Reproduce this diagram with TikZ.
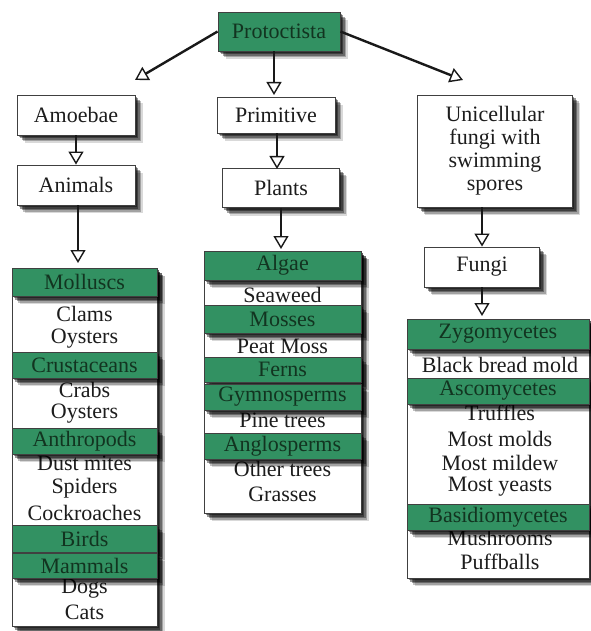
\documentclass[tikz,border=0pt]{standalone}
\usepackage{fontspec}
\setmainfont{Liberation Serif}
\usetikzlibrary{arrows.meta}
\definecolor{grn}{RGB}{50,145,98}
\definecolor{ink}{RGB}{28,28,28}
\definecolor{gink}{RGB}{18,52,32}
\tikzset{
  shd/.style={
    preaction={fill=black, opacity=0.40, transform canvas={shift={(1.5pt,-2pt)}}},
    preaction={fill=black, opacity=0.40, transform canvas={shift={(3pt,-3.5pt)}}},
    preaction={fill=black, opacity=0.35, transform canvas={shift={(4.5pt,-5pt)}}},
    preaction={fill=black, opacity=0.25, transform canvas={shift={(6pt,-6.5pt)}}},
    preaction={fill=black, opacity=0.15, transform canvas={shift={(7.5pt,-8pt)}}}},
  txt/.style={font=\fontsize{22}{23}\selectfont, text=ink},
  wbox/.style={shd, draw=black!75, line width=0.9pt, fill=white, inner sep=0pt, txt, align=center},
  gbox/.style={shd, draw=black!75, line width=0.9pt, fill=grn, inner sep=0pt, txt, text=gink},
  colbox/.style={shd, draw=black!75, line width=0.9pt, fill=white, inner sep=0pt},
  itm/.style={txt, inner sep=0pt},
  arr/.style={line width=2.4pt, draw=black!90, -{Triangle[open, length=13pt, width=15pt, line width=1.4pt]}}
}
\begin{document}
\begin{tikzpicture}[x=1pt,y=-1pt]
\useasboundingbox[fill=white] (0,0) rectangle (590,631);
% top
\node[gbox, minimum width=122, minimum height=39] (proto) at (279,31.5) {Protoctista};
\node[wbox, minimum width=118, minimum height=40] (amoebae) at (76,115) {Amoebae};
\node[wbox, minimum width=118, minimum height=40] (animals) at (76,185) {Animals};
\node[wbox, minimum width=118, minimum height=36] (primitive) at (276,115) {Primitive};
\node[wbox, minimum width=117, minimum height=39] (plants) at (281,188) {Plants};
\node[wbox, minimum width=155, minimum height=112] (uni) at (495,151) {Unicellular\\fungi with\\swimming\\spores};
\node[wbox, minimum width=115, minimum height=40] (fungi) at (482,267) {Fungi};
\coordinate (tipA) at (135,80);
\coordinate (tipC) at (463,80);
\coordinate (tipL) at (78,263);
\coordinate (tipM) at (281,249);
\coordinate (tipR) at (482,316);
\draw[arr] (proto.west) -- (tipA);
\draw[arr] (proto.south -| 274,0) -- (274,95);
\draw[arr] (proto.east) -- (tipC);
\draw[arr] (amoebae.south) -- (animals.north);
\draw[arr] (primitive.south -| 277,0) -- (277,169);
\draw[arr] (animals.south -| tipL) -- (tipL);
\draw[arr] (plants.south) -- (tipM);
\draw[arr] (uni.south -| fungi.north) -- (fungi.north);
\draw[arr] (fungi.south) -- (tipR);
% left column
\node[colbox, minimum width=145, minimum height=358] (colL) at (84.5,447) {};
\node[itm] (clams) at (84.5,314) {Clams};
\node[itm] (oysters1) at (84.5,339) {Oysters};
\node[itm] (crabs) at (84.5,390) {Crabs};
\node[itm] (oysters2) at (84.5,414) {Oysters};
\node[itm] (dust) at (84.5,463) {Dust mites};
\node[itm] (spiders) at (84.5,488) {Spiders};
\node[itm] (cock) at (84.5,513) {Cockroaches};
\node[itm] (dogs) at (84.5,589) {Dogs};
\node[itm] (cats) at (84.5,612) {Cats};
\node[gbox, minimum width=145, minimum height=28] (molluscs) at (84.5,282) {Molluscs};
\node[gbox, minimum width=145, minimum height=26] (crust) at (84.5,365) {Crustaceans};
\node[gbox, minimum width=145, minimum height=26] (anthro) at (84.5,441) {Anthropods};
\node[gbox, minimum width=145, minimum height=27] (birds) at (84.5,538.5) {Birds};
\node[gbox, minimum width=145, minimum height=25] (mammals) at (84.5,565.5) {Mammals};
% middle column
\node[colbox, minimum width=157, minimum height=262] (colM) at (282.5,382) {};
\node[itm] (seaweed) at (282.5,295) {Seaweed};
\node[itm] (peat) at (282.5,346) {Peat Moss};
\node[itm] (pine) at (282.5,420) {Pine trees};
\node[itm] (other) at (282.5,469) {Other trees};
\node[itm] (grasses) at (282.5,494) {Grasses};
\node[gbox, minimum width=157, minimum height=29] (algae) at (282.5,265.5) {Algae};
\node[gbox, minimum width=157, minimum height=28] (mosses) at (282.5,319) {Mosses};
\node[gbox, minimum width=157, minimum height=25] (ferns) at (282.5,369.5) {Ferns};
\node[gbox, minimum width=157, minimum height=26] (gymno) at (282.5,397) {Gymnosperms};
\node[gbox, minimum width=157, minimum height=26] (anglo) at (282.5,446) {Anglosperms};
% right column
\node[colbox, minimum width=182, minimum height=259] (colR) at (498,448.5) {};
\node[itm] (black) at (500,365) {Black bread mold};
\node[itm] (truffles) at (500,413) {Truffles};
\node[itm] (molds) at (500,439) {Most molds};
\node[itm] (mildew) at (500,463) {Most mildew};
\node[itm] (yeasts) at (500,487) {Most yeasts};
\node[itm] (mush) at (500,538) {Mushrooms};
\node[itm] (puff) at (500,562) {Puffballs};
\node[gbox, minimum width=182, minimum height=30] (zygo) at (498,334) {Zygomycetes};
\node[gbox, minimum width=182, minimum height=26] (asco) at (498,391) {Ascomycetes};
\node[gbox, minimum width=182, minimum height=26] (basid) at (498,517) {Basidiomycetes};
\end{tikzpicture}
\end{document}
